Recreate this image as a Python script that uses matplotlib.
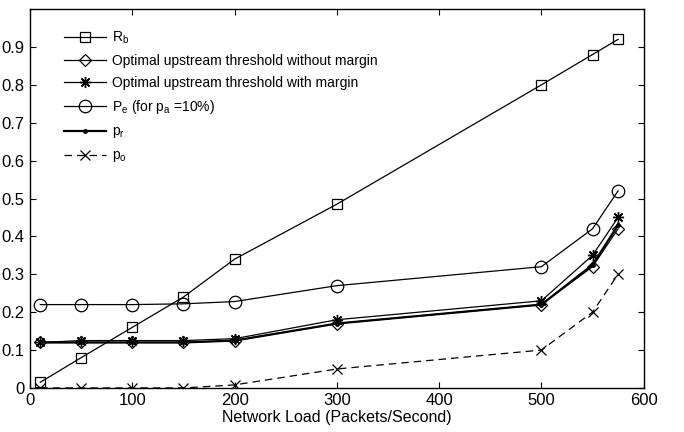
import matplotlib
matplotlib.use('Agg')
import matplotlib.pyplot as plt

plt.rcParams['font.family'] = ['Liberation Sans', 'DejaVu Sans']
plt.rcParams['font.size'] = 11

# network load (packets/second)
load = [10, 50, 100, 150, 200, 300, 500, 550, 575]

rb = [0.015, 0.08, 0.16, 0.24, 0.34, 0.485, 0.80, 0.88, 0.92]
thr_no_margin = [0.12, 0.12, 0.12, 0.12, 0.125, 0.17, 0.22, 0.32, 0.42]
thr_margin = [0.12, 0.125, 0.125, 0.125, 0.13, 0.18, 0.23, 0.35, 0.45]
pe = [0.22, 0.22, 0.22, 0.222, 0.228, 0.27, 0.32, 0.42, 0.52]
pr = [0.12, 0.12, 0.12, 0.12, 0.125, 0.17, 0.22, 0.325, 0.43]
po = [0.0, 0.0, 0.0, 0.0, 0.008, 0.05, 0.10, 0.20, 0.30]

xticks = [0, 100, 200, 300, 400, 500, 600]
yticks = [0, 0.1, 0.2, 0.3, 0.4, 0.5, 0.6, 0.7, 0.8, 0.9]
ytick_labels = ['0', '0.1', '0.2', '0.3', '0.4', '0.5', '0.6', '0.7', '0.8', '0.9']

fig = plt.figure(figsize=(6.84, 4.32), dpi=100)
ax = fig.add_axes([0.044, 0.102, 0.897, 0.877])

k = 'black'
ax.plot(load, rb, '-s', color=k, lw=0.9, ms=7, mfc='none', mew=0.9, label='R$_\\mathregular{b}$')
ax.plot(load, thr_no_margin, '-D', color=k, lw=0.9, ms=6, mfc='none', mew=0.9,
        label='Optimal upstream threshold without margin')
ax.plot(load, thr_margin, '-', marker=(8, 2, 0), color=k, lw=0.9, ms=8, mew=1.0,
        label='Optimal upstream threshold with margin')
ax.plot(load, pe, '-o', color=k, lw=0.9, ms=9, mfc='none', mew=0.9,
        label='P$_\\mathregular{e}$ (for p$_\\mathregular{a}$ =10%)')
ax.plot(load, pr, '-', marker='.', color=k, lw=1.6, ms=5, label='p$_\\mathregular{r}$')
ax.plot(load, po, '--x', color=k, lw=0.9, ms=7, mew=0.9, dashes=(6, 4),
        label='p$_\\mathregular{o}$')

ax.set_xlim(0, 600)
ax.set_ylim(0, 1)
ax.set_xticks(xticks)
ax.set_yticks(yticks)
ax.set_yticklabels(ytick_labels)
ax.tick_params(direction='in', top=True, right=True, length=4, labelsize=12, pad=4)
for s in ax.spines.values():
    s.set_linewidth(1.0)

ax.set_xlabel('Network Load (Packets/Second)', fontsize=11.5, labelpad=1)

ax.legend(loc='upper left', bbox_to_anchor=(0.046, 0.96), borderaxespad=0,
          frameon=False, fontsize=10, handlelength=3.0, handletextpad=0.45,
          labelspacing=0.58)

fig.savefig('out.png', dpi=100)
